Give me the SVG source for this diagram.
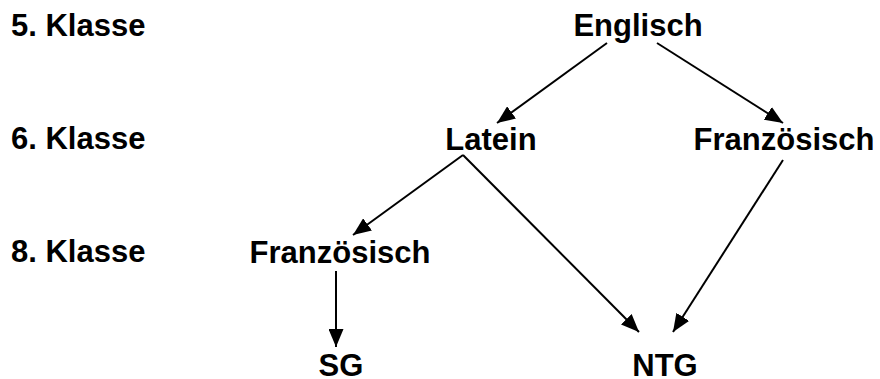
<svg xmlns="http://www.w3.org/2000/svg" width="880" height="379" viewBox="0 0 880 379">
<style>
text{font-family:"Liberation Sans",Arial,sans-serif;font-weight:bold;font-size:31px;fill:#000}
.n text{text-anchor:middle}
.c line{stroke:#000;stroke-width:2;marker-end:url(#ah)}
</style>
<defs>
<marker id="ah" viewBox="0 0 18 15" refX="18" refY="7.5" markerWidth="18" markerHeight="15" markerUnits="userSpaceOnUse" orient="auto">
<path d="M0,0 L18,7.5 L0,15 z" fill="#000"/>
</marker>
</defs>
<rect width="880" height="379" fill="#fff"/>
<g id="labels">
<text x="11" y="36">5. Klasse</text>
<text x="11" y="149">6. Klasse</text>
<text x="11" y="262">8. Klasse</text>
</g>
<g id="connectors" class="c">
<line x1="607" y1="43" x2="497" y2="123"/>
<line x1="657" y1="43" x2="783" y2="123"/>
<line x1="463" y1="155" x2="353" y2="235"/>
<line x1="463" y1="155" x2="639" y2="332"/>
<line x1="783" y1="160" x2="673" y2="332"/>
<line x1="336" y1="271" x2="336" y2="347"/>
</g>
<g id="englisch" class="n"><text x="638" y="36">Englisch</text></g>
<g id="latein" class="n"><text x="491" y="150">Latein</text></g>
<g id="franz6" class="n"><text x="784" y="150">Französisch</text></g>
<g id="franz8" class="n"><text x="340" y="263">Französisch</text></g>
<g id="sg" class="n"><text x="341" y="376">SG</text></g>
<g id="ntg" class="n"><text x="665" y="376">NTG</text></g>
</svg>
